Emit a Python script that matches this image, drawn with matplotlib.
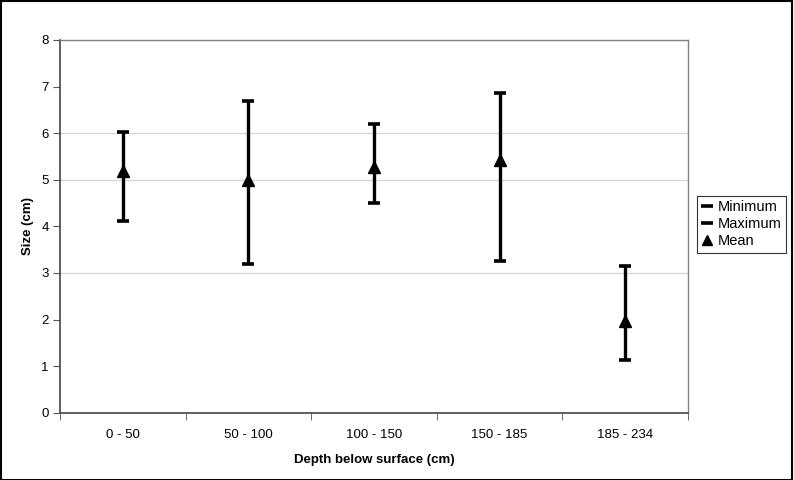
import matplotlib
matplotlib.use("Agg")
import matplotlib.pyplot as plt
from matplotlib.patches import Rectangle
from matplotlib.lines import Line2D

plt.rcParams['font.family'] = ['Liberation Sans', 'DejaVu Sans']

categories = ["0 - 50", "50 - 100", "100 - 150", "150 - 185", "185 - 234"]
minimum = [4.11, 3.20, 4.51, 3.25, 1.13]
maximum = [6.02, 6.68, 6.19, 6.86, 3.14]
mean = [5.19, 5.00, 5.27, 5.42, 1.96]
yticks = [0, 1, 2, 3, 4, 5, 6, 7, 8]
visible_grid = [3, 5, 6]

fig = plt.figure(figsize=(7.94, 4.8), dpi=100)
ax = fig.add_axes([60/794, 1-412.7/480, (688-60)/794, (412.7-40)/480])

x = list(range(len(categories)))
for g in visible_grid:
    ax.axhline(g, color='#d4d4d4', lw=0.9, zorder=0)

ax.vlines(x, minimum, maximum, color='black', lw=2.4, zorder=2)
ax.plot(x, minimum, ls='none', marker='_', ms=8, mew=2.6, color='black', zorder=3)
ax.plot(x, maximum, ls='none', marker='_', ms=8, mew=2.6, color='black', zorder=3)
ax.plot(x, mean, ls='none', marker='^', ms=8, color='black', zorder=4)

ax.set_xlim(-0.5, len(categories) - 0.5)
ax.set_ylim(0, 8)
ax.set_yticks(yticks)
ax.set_yticklabels([str(t) for t in yticks], fontsize=9.5)
ax.set_xticks(x)
ax.set_xticklabels(categories, fontsize=9.5)
ax.set_xticks([i - 0.5 for i in range(len(categories) + 1)], minor=True)
ax.tick_params(axis='x', which='major', length=0, pad=12)
ax.tick_params(axis='x', which='minor', length=5, direction='out', color='#555555')
ax.tick_params(axis='y', length=5, direction='out', color='#555555', pad=3)

for s in ['left', 'bottom']:
    ax.spines[s].set_color('#444444')
    ax.spines[s].set_linewidth(1.2)
for s in ['top', 'right']:
    ax.spines[s].set_color('#808080')
    ax.spines[s].set_linewidth(1.0)

ax.set_ylabel("Size (cm)", fontsize=9.5, fontweight='bold', labelpad=5)
ax.set_xlabel("Depth below surface (cm)", fontsize=9.5, fontweight='bold', labelpad=9)

handles = [
    Line2D([], [], ls='none', marker='_', ms=8, mew=2.6, color='black'),
    Line2D([], [], ls='none', marker='_', ms=8, mew=2.6, color='black'),
    Line2D([], [], ls='none', marker='^', ms=7.5, color='black'),
]
leg = fig.legend(handles, ["Minimum", "Maximum", "Mean"], loc='upper left',
                 bbox_to_anchor=(697/794, 1-196/480), fontsize=10.5, frameon=True,
                 fancybox=False, edgecolor='black', handlelength=0.8,
                 handletextpad=0.3, borderpad=0.3, labelspacing=0.2,
                 borderaxespad=0)
leg.get_frame().set_linewidth(0.8)

fig.patches.append(Rectangle((0.001, 0.001), 0.997, 0.997, transform=fig.transFigure,
                             fill=False, edgecolor='black', lw=1.5))

fig.savefig("out.png", dpi=100)
